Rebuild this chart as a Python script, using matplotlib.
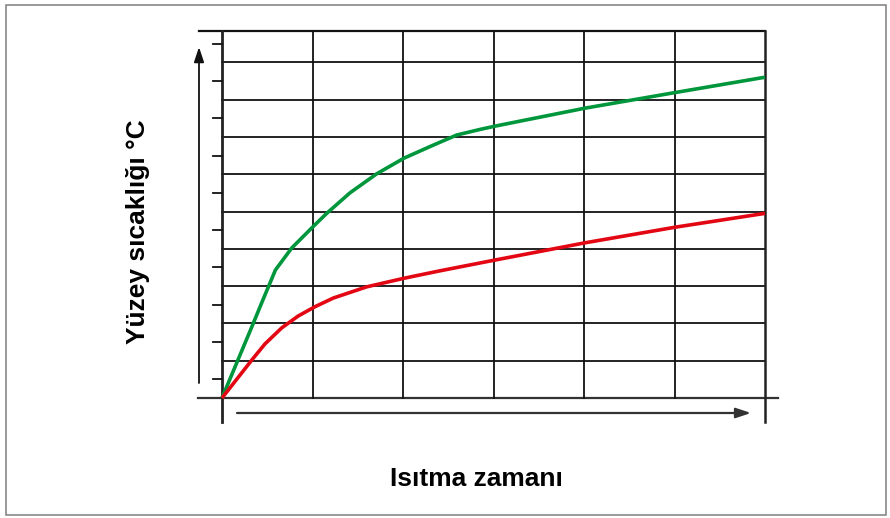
import matplotlib
matplotlib.use("Agg")
import matplotlib.pyplot as plt
from matplotlib.patches import Rectangle

# Data (x in grid columns, y in grid rows)
green_x = [0, 0.33, 0.44, 0.59, 0.77, 1.017, 1.157, 1.414, 1.709,
           2.011, 2.335, 2.593, 2.851, 3.02, 4.01, 5.01, 6.0]
green_y = [0, 1.91, 2.56, 3.43, 4.02, 4.62, 4.95, 5.50, 6.01,
           6.43, 6.78, 7.05, 7.20, 7.29, 7.77, 8.19, 8.60]
red_x = [0, 0.33, 0.475, 0.66, 0.843, 1.03, 1.23, 1.599, 2.011, 2.409,
         3.02, 4.01, 5.01, 6.0]
red_y = [0, 1.02, 1.45, 1.88, 2.20, 2.45, 2.68, 2.98, 3.21, 3.41,
         3.70, 4.16, 4.58, 4.95]
x_grid = [0, 1, 2, 3, 4, 5, 6]
y_grid = [1, 2, 3, 4, 5, 6, 7, 8, 9]
y_minor = [0.5 + i for i in range(10)]
xlabel = "Isıtma zamanı"
ylabel = "Yüzey sıcaklığı °C"

plt.rcParams['font.family'] = ['Liberation Sans', 'DejaVu Sans']

W, H = 890, 518
fig = plt.figure(figsize=(W / 100, H / 100), dpi=100)
x0, x1, y0, y1 = 222, 765, 398, 31
ax = fig.add_axes([x0 / W, 1 - y0 / H, (x1 - x0) / W, (y0 - y1) / H])
ymax = (y0 - y1) / 37.3
ax.set_xlim(0, 6)
ax.set_ylim(0, ymax)
for s in ax.spines.values():
    s.set_visible(False)
ax.set_xticks([])
ax.set_yticks([])

gc = '#111111'
lw = 1.3
px = 6 / (x1 - x0)  # data per pixel in x
py = ymax / (y0 - y1)
# horizontal grid
for yv in y_grid:
    ax.plot([0, 6], [yv, yv], color=gc, lw=lw, clip_on=False, zorder=1)
ax.plot([-23 * px, 6], [ymax, ymax], color=gc, lw=1.6, clip_on=False, zorder=1)
ax.plot([-24 * px, 6 + 13 * px], [0, 0], color='#333333', lw=1.6, clip_on=False, zorder=1)
# vertical grid
for xv in x_grid[1:-1]:
    ax.plot([xv, xv], [0, ymax], color=gc, lw=lw, clip_on=False, zorder=1)
ax.plot([0, 0], [-24 * py, ymax], color='#222222', lw=2.0, clip_on=False, zorder=1)
ax.plot([6, 6], [-24 * py, ymax], color='#222222', lw=1.8, clip_on=False, zorder=1)
# minor ticks on left
for yv in y_minor:
    ax.plot([-9 * px, 0], [yv, yv], color=gc, lw=lw, clip_on=False, zorder=1)

# curves
ax.plot(green_x, green_y, color='#00963c', lw=2.6, clip_on=False, zorder=3,
        solid_capstyle='butt', solid_joinstyle='round')
ax.plot(red_x, red_y, color='#e30613', lw=2.6, clip_on=False, zorder=3,
        solid_capstyle='butt', solid_joinstyle='round')

# arrows
ax.annotate('', xy=(-23 * px, (y0 - 47) * py), xytext=(-23 * px, (y0 - 383) * py),
            arrowprops=dict(arrowstyle='-|>,head_length=0.9,head_width=0.3',
                            color='#111111', lw=1.3, shrinkA=0, shrinkB=0),
            annotation_clip=False)
ax.annotate('', xy=(529 * px, -15 * py), xytext=(15 * px, -15 * py),
            arrowprops=dict(arrowstyle='-|>,head_length=0.9,head_width=0.3',
                            color='#333333', lw=1.6, shrinkA=0, shrinkB=0),
            annotation_clip=False)

# labels
fig.text(476 / W, 1 - 479 / H, xlabel, ha='center', va='center',
         fontsize=19, fontweight='bold')
fig.text(138 / W, 1 - 232 / H, ylabel, ha='center', va='center',
         rotation=90, fontsize=19, fontweight='bold')

# frame
fig.patches.append(Rectangle((6 / W, 3 / H), 880 / W, 510 / H,
                             transform=fig.transFigure, fill=False,
                             edgecolor='#888888', lw=1.2))

fig.savefig('out.png', dpi=100)
